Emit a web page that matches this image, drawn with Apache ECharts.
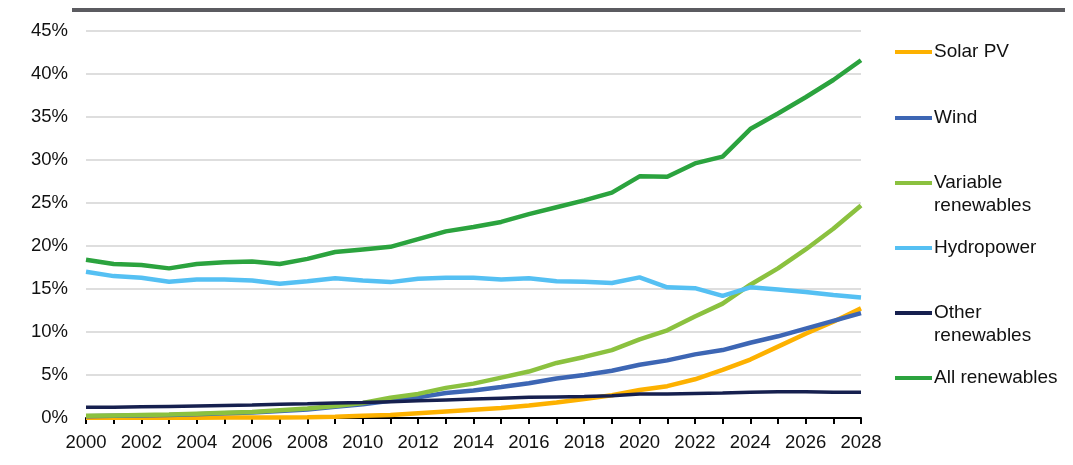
<!DOCTYPE html>
<html>
<head>
<meta charset="utf-8">
<script src="https://cdn.jsdelivr.net/npm/echarts@6/dist/echarts.min.js"></script>
<style>html,body{margin:0;padding:0;background:#fff;}#c{width:1073px;height:465px;}</style>
</head>
<body>
<div id="c"></div>
<script>
const years = [];
for (let y = 2000; y <= 2028; y++) years.push(String(y));

const solarPV = [0.02,0.02,0.03,0.03,0.04,0.05,0.06,0.07,0.1,0.15,0.25,0.35,0.55,0.75,0.95,1.15,1.45,1.8,2.2,2.65,3.25,3.7,4.5,5.6,6.8,8.3,9.8,11.2,12.75];
const wind = [0.2,0.25,0.3,0.35,0.45,0.55,0.65,0.8,1.0,1.3,1.6,2.0,2.4,2.9,3.2,3.6,4.05,4.6,5.0,5.5,6.2,6.7,7.4,7.9,8.75,9.5,10.4,11.3,12.2];
const variableRen = [0.25,0.3,0.35,0.4,0.5,0.6,0.7,0.9,1.1,1.4,1.75,2.35,2.8,3.5,4.0,4.7,5.4,6.4,7.1,7.9,9.15,10.2,11.8,13.3,15.5,17.4,19.6,22.0,24.7];
const hydropower = [17.0,16.5,16.3,15.85,16.1,16.1,16.0,15.6,15.9,16.25,16.0,15.8,16.2,16.3,16.3,16.1,16.25,15.9,15.85,15.7,16.35,15.2,15.1,14.2,15.2,14.95,14.65,14.3,14.0];
const otherRen = [1.25,1.25,1.3,1.35,1.4,1.45,1.5,1.6,1.65,1.75,1.8,1.9,2.0,2.1,2.2,2.3,2.4,2.45,2.5,2.6,2.8,2.8,2.85,2.9,3.0,3.05,3.05,3.0,3.0];
const allRen = [18.4,17.9,17.8,17.4,17.9,18.1,18.2,17.9,18.5,19.3,19.6,19.9,20.8,21.7,22.2,22.8,23.7,24.5,25.3,26.2,28.1,28.05,29.6,30.4,33.6,35.4,37.3,39.3,41.6];
const yTicks = ['0%','5%','10%','15%','20%','25%','30%','35%','40%','45%'];

const names = ['Solar PV','Wind','Variable\nrenewables','Hydropower','Other\nrenewables','All renewables'];
const colors = ['#FDB100','#3D66B4','#8BC13F','#55C0F3','#16204F','#2BA33E'];
const dataSets = [solarPV, wind, variableRen, hydropower, otherRen, allRen];
const widths = [4.5,4.5,4.5,4.5,3.5,4.5];
const legendLineY = [52,118,183,248,313,378];

const font = 'Liberation Sans, Arial, sans-serif';
const LH = 23;

const series = names.map((n,i)=>({
  name: n, type: 'line', data: dataSets[i], symbol: 'none', smooth: false,
  lineStyle: {color: colors[i], width: widths[i]}, itemStyle: {color: colors[i]},
  z: 2 + i, animation: false
}));

const legends = names.map((n,i)=>{
  const two = n.indexOf('\n') >= 0;
  return {
    data: [n], left: 895, top: two ? legendLineY[i] - 1.5*LH : legendLineY[i] - LH/2,
    padding: 0, icon: 'rect', itemWidth: 37, itemHeight: 4, itemGap: 0,
    selectedMode: false,
    formatter: name => (name.indexOf('\n') >= 0 ? ' \n' + name : name),
    textStyle: {fontFamily: font, fontSize: 19, color: '#111', lineHeight: LH, padding: [0,0,0,-3]}
  };
});

const chart = echarts.init(document.getElementById('c'), null, {renderer: 'canvas'});
chart.setOption({
  animation: false,
  backgroundColor: '#fff',
  grid: {left: 86, right: 212, top: 31, bottom: 47, containLabel: false},
  legend: legends,
  graphic: [{type: 'rect', left: 72, top: 8, shape: {width: 993, height: 4}, style: {fill: '#5B5B60'}}],
  xAxis: {
    type: 'category', data: years, boundaryGap: false,
    axisLine: {lineStyle: {color: '#000', width: 2}},
    axisTick: {interval: 0, length: 6, inside: false, lineStyle: {color: '#000', width: 2}},
    axisLabel: {interval: 1, color: '#111', fontFamily: font, fontSize: 18.5, margin: 15},
    splitLine: {show: false}
  },
  yAxis: {
    type: 'value', min: 0, max: 45, interval: 5,
    axisLine: {show: false}, axisTick: {show: false},
    axisLabel: {formatter: v => yTicks[Math.round(v/5)], color: '#111', fontFamily: font, fontSize: 18.5, margin: 18},
    splitLine: {lineStyle: {color: '#D3D3D3', width: 1.5}}
  },
  series: series
});
</script>
</body>
</html>
